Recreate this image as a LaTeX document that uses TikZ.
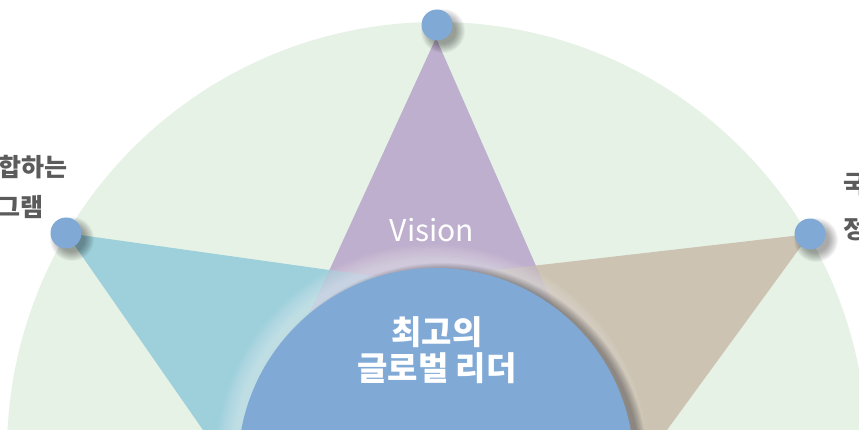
\documentclass[tikz,border=0pt]{standalone}
\usepackage{fontspec}
\setmainfont{Noto Sans CJK KR}
\usetikzlibrary{calc}
\definecolor{fieldgreen}{HTML}{E6F2E6}
\definecolor{visionpurple}{HTML}{BDAFCD}
\definecolor{wingteal}{HTML}{9DD0DB}
\definecolor{wingbrown}{HTML}{CDC3B3}
\definecolor{hubblue}{HTML}{80A9D6}
\definecolor{sidegray}{HTML}{5B5B5B}
\tikzset{
  hubdot/.style={circle, fill=hubblue, minimum size=31pt, inner sep=0pt},
  vislabel/.style={text=white, font=\fontsize{30}{34}\selectfont},
  leadlabel/.style={text=white, align=center, font=\fontsize{33}{36}\selectfont\bfseries},
  sidelabel/.style={text=sidegray, inner sep=0pt, font=\fontsize{25}{28}\selectfont\bfseries}
}
\begin{document}
\begin{tikzpicture}[x=1pt,y=-1pt]
  \useasboundingbox (0,0) rectangle (859,430);
  \begin{scope}
    \clip (0,0) rectangle (859,430);
    % background field
    \fill[fieldgreen] (437,452) circle (430);
    % three wings
    \fill[visionpurple] (436,38) -- (256,430) -- (608,430) -- cycle;
    \fill[wingteal] (66,233) -- (436,285) -- (436,430) -- (203,430) -- cycle;
    \fill[wingbrown] (810,234) -- (436,277) -- (436,430) -- (667,430) -- cycle;
    \begin{scope}
      \clip (436,38) -- (256,430) -- (608,430) -- cycle;
      \fill[visionpurple, opacity=0.45] (66,233) -- (436,285) -- (436,430) -- (203,430) -- cycle;
      \fill[visionpurple, opacity=0.45] (810,234) -- (436,277) -- (436,430) -- (667,430) -- cycle;
    \end{scope}
    % glow and shadow round the hub
    \foreach \k in {1,...,14}
      \fill[white, opacity=0.035] (432,460) circle ({198+1.3*\k});
    \foreach \k in {1,...,10}
      \fill[black, opacity=0.04] (443,468) circle ({196+0.9*\k});
    \fill[hubblue] (436,466) circle (198);
  \end{scope}
  % dots with soft shadows
  \foreach \p in {(437,25),(66,233),(810,234)}
    \foreach \k in {1,...,10}
      \fill[black, opacity=0.04] \p ++(6,6) circle ({12+1.0*\k});
  \node[hubdot] (topdot) at (437,25) {};
  \node[hubdot] (leftdot) at (66,233) {};
  \node[hubdot] (rightdot) at (810,234) {};
  % labels
  \node[vislabel] (vision) at (432,230) {Vision};
  \node[leadlabel] (leader) at (437,350) {최고의\\글로벌 리더};
  \node[sidelabel, anchor=east] (lefttop) at (68,167) {합하는};
  \node[sidelabel, anchor=east] (leftbot) at (44,207) {그램};
  \node[sidelabel, anchor=west] (righttop) at (843,185) {국};
  \node[sidelabel, anchor=west] (rightbot) at (843,229) {정};
\end{tikzpicture}
\end{document}
